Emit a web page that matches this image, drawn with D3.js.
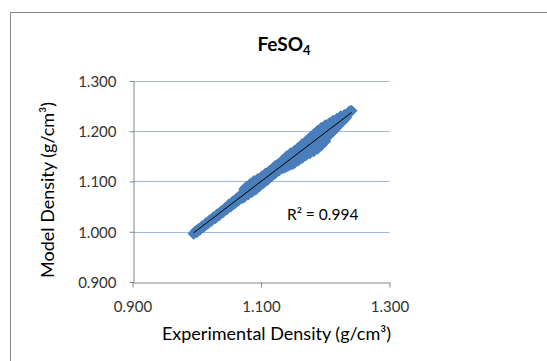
<!DOCTYPE html>
<html><head><meta charset="utf-8">
<script src="https://cdn.jsdelivr.net/npm/d3@7"></script>
<style>body{margin:0;background:#fff}svg{display:block}</style>
</head><body><svg id="c" width="547" height="361"></svg>
<script>
const expX = [
0.995,0.998,1.000,1.002,1.005,1.008,1.011,1.014,1.017,1.020,1.023,1.026,1.029,1.032,1.035,1.038,1.041,1.044,1.047,1.050,1.053,1.056,1.059,1.062,1.065,1.068,1.071,
1.074,1.074,1.074,1.077,1.077,1.080,1.080,1.083,1.083,1.086,1.086,1.089,1.089,1.092,1.092,1.095,1.095,1.098,1.098,1.101,1.101,1.104,1.104,1.107,1.107,1.110,1.110,1.113,1.113,1.116,1.116,1.119,1.119,1.122,1.122,1.125,1.125,1.128,1.128,1.131,1.131,
1.134,1.134,1.134,1.137,1.137,1.140,1.140,1.140,1.143,1.143,1.146,1.146,1.146,1.149,1.149,1.152,1.152,1.152,1.155,1.155,1.158,1.158,1.158,1.161,1.161,1.164,1.164,1.164,1.167,1.167,1.170,1.170,1.170,1.173,1.173,1.176,1.176,1.176,1.179,1.179,1.182,1.182,1.182,1.185,1.185,1.188,1.188,1.188,1.191,1.191,1.194,1.194,1.194,1.197,1.197,1.200,1.200,1.200,1.203,1.203,1.206,1.206,1.206,1.209,1.209,1.212,1.212,1.212,1.215,1.215,
1.218,1.218,1.221,1.221,1.224,1.224,1.227,1.227,1.230,1.230,1.233,1.233,1.236,1.238,1.241];
const modelY = [
0.996,1.001,0.999,1.005,1.004,1.011,1.010,1.017,1.016,1.023,1.022,1.029,1.027,1.035,1.033,1.041,1.039,1.047,1.045,1.054,1.050,1.060,1.056,1.066,1.062,1.073,1.067,
1.085,1.069,1.074,1.089,1.080,1.074,1.086,1.095,1.083,1.079,1.092,1.101,1.089,1.084,1.097,1.105,1.094,1.091,1.103,1.110,1.100,1.097,1.108,1.116,1.106,1.103,1.114,1.121,1.112,1.110,1.120,1.127,1.118,1.116,1.131,1.133,1.124,1.122,1.132,1.139,1.127,
1.143,1.133,1.127,1.141,1.128,1.150,1.139,1.130,1.147,1.132,1.156,1.145,1.134,1.152,1.135,1.161,1.150,1.137,1.159,1.146,1.167,1.156,1.142,1.165,1.151,1.174,1.162,1.147,1.171,1.157,1.180,1.168,1.152,1.177,1.162,1.187,1.174,1.156,1.184,1.167,1.194,1.180,1.160,1.190,1.172,1.201,1.186,1.165,1.196,1.178,1.207,1.192,1.172,1.202,1.184,1.212,1.198,1.180,1.207,1.190,1.216,1.203,1.192,1.212,1.197,1.221,1.209,1.200,1.217,1.204,
1.225,1.209,1.222,1.212,1.230,1.217,1.228,1.220,1.233,1.224,1.233,1.228,1.237,1.240,1.241];
const xTicks = [0.9, 1.1, 1.3];
const yTicks = [0.9, 1.0, 1.1, 1.2, 1.3];
const gridValues = [1.0, 1.1, 1.2, 1.3];
const titleMain = "FeSO", titleSub = "4";
const xTitle = "Experimental Density (g/cm³)";
const yTitle = "Model Density (g/cm³)";
const r2Text = "R² = 0.994";

const FONT = "Lato, 'Open Sans', sans-serif";
const svg = d3.select("#c");
svg.append("rect").attr("x",10.5).attr("y",12.5).attr("width",700).attr("height",500)
  .attr("fill","#fff").attr("stroke","#8a8a8a").attr("stroke-width",1);

const x = d3.scaleLinear().domain([0.9,1.3]).range([132.5,389.5]);
const y = d3.scaleLinear().domain([0.9,1.3]).range([282,81]);
const fmt = d3.format(".3f");

// gridlines
svg.append("g").selectAll("line").data(gridValues).join("line")
  .attr("x1",x(0.9)).attr("x2",x(1.3))
  .attr("y1",d=>Math.round(y(d))+0.5).attr("y2",d=>Math.round(y(d))+0.5)
  .attr("stroke","#9DB8DD").attr("stroke-width",1.2);

// axes
const gx = svg.append("g").attr("transform",`translate(0,${Math.round(y(0.9))+0.5})`)
  .call(d3.axisBottom(x).tickValues(xTicks).tickFormat(fmt).tickSize(5).tickSizeOuter(0));
const gy = svg.append("g").attr("transform",`translate(${Math.round(x(0.9))+0.5},0)`)
  .call(d3.axisLeft(y).tickValues(yTicks).tickFormat(fmt).tickSize(4).tickSizeOuter(0));
[gx,gy].forEach(g=>{
  g.select(".domain").attr("stroke","#868686");
  g.selectAll(".tick line").attr("stroke","#868686");
  g.selectAll(".tick text").attr("fill","#333").style("font-family",FONT).style("font-size","15px");
});
gx.selectAll(".tick text").attr("y",29.5).attr("dy",0);
gy.selectAll(".tick text").attr("x",-17).attr("dy","0.35em");

// markers
const pts = expX.map((v,i)=>[v,modelY[i]]);
const sym = d3.symbol(d3.symbolSquare, 72);
svg.append("g").selectAll("path").data(pts).join("path")
  .attr("d",sym)
  .attr("transform",d=>`translate(${x(d[0])},${y(d[1])}) rotate(45)`)
  .attr("fill","#4A7EBB");

// linear trendline
const mx = d3.mean(expX), my = d3.mean(modelY);
let sxy=0, sxx=0;
pts.forEach(([a,b])=>{sxy+=(a-mx)*(b-my); sxx+=(a-mx)*(a-mx);});
const slope = sxy/sxx, icpt = my - slope*mx;
const [x0,x1] = d3.extent(expX);
svg.append("line").attr("x1",x(x0)).attr("y1",y(icpt+slope*x0))
  .attr("x2",x(x1)).attr("y2",y(icpt+slope*x1))
  .attr("stroke","#000").attr("stroke-width",1);

// texts
const t = svg.append("text").attr("x",284).attr("y",50.5).attr("text-anchor","middle")
  .style("font-family",FONT).style("font-size","19px").style("font-weight","bold").attr("fill","#000");
t.append("tspan").text(titleMain);
t.append("tspan").attr("dy",4).style("font-size","13px").text(titleSub);

svg.append("text").attr("x",276.5).attr("y",340).attr("text-anchor","middle")
  .style("font-family",FONT).style("font-size","18px").attr("fill","#000").text(xTitle);
svg.append("text").attr("transform","translate(53.5,190) rotate(-90)").attr("text-anchor","middle")
  .style("font-family",FONT).style("font-size","18px").attr("fill","#000").text(yTitle);
svg.append("text").attr("x",287).attr("y",219.5)
  .style("font-family",FONT).style("font-size","15.5px").attr("fill","#000").text(r2Text);
</script></body></html>
